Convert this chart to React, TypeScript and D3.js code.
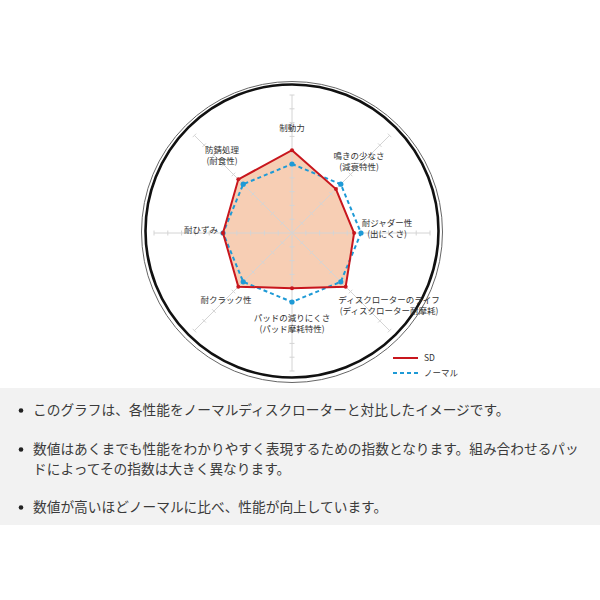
import * as d3 from "d3";

// axis labels (clockwise from top) and their second line
const categories = ["制動力", "鳴きの少なさ", "耐ジャダー性", "ディスクローターのライフ", "パッドの減りにくさ", "耐クラック性", "耐ひずみ", "防錆処理"];
const subLabels = ["", "(減衰特性)", "(出にくさ)", "(ディスクローター耐摩耗)", "(パッド摩耗特性)", "", "", "(耐食性)"];
const sdValues = [6, 4.5, 4.5, 5.5, 4, 5.5, 5, 5.5];
const normalValues = [5, 5, 5, 5, 5, 5, 5, 5];
const tickValues = [1, 2, 3, 4, 5, 6, 7, 8, 9, 10];
const legendNames = ["SD", "ノーマル"];
const notes = [
  ["このグラフは、各性能をノーマルディスクローターと対比したイメージです。"],
  ["数値はあくまでも性能をわかりやすく表現するための指数となります。組み合わせるパッ", "ドによってその指数は大きく異なります。"],
  ["数値が高いほどノーマルに比べ、性能が向上しています。"],
];

// label placement relative to chart centre (layout only)
const labelLayout: [number, number][] = [
  [0, -105], [67, -77], [95, -10], [97, 67], [0, 85], [-66, 67], [-91, -3], [-70, -83],
];

const cx = 292;
const cy = 233;
const red = "#c8161d";
const blue = "#1e9ad6";

export default function App() {
  const r = d3.scaleLinear().domain([0, 10]).range([0, 138]);
  const angle = d3.scaleLinear().domain([0, categories.length]).range([0, 2 * Math.PI]);

  const radial = d3
    .lineRadial<number>()
    .angle((_, i) => angle(i))
    .radius((d) => r(d))
    .curve(d3.curveLinearClosed);

  const pt = (i: number, v: number) => {
    const a = angle(i);
    return [Math.sin(a) * r(v), -Math.cos(a) * r(v)];
  };

  return (
    <>
      <style>{`body{margin:0}`}</style>
      <svg width={600} height={600} style={{ display: "block", background: "#fff" }} fontFamily="'Noto Sans CJK JP', sans-serif">
        {/* notes box */}
        <rect x={0} y={388} width={600} height={137} fill="#f2f2f2" />
        {notes.map((lines, k) => {
          const y0 = [415, 454, 512][k];
          return (
            <g key={k}>
              <circle cx={21} cy={y0 - 4.5} r={2.3} fill="#222" />
              {lines.map((t, j) => (
                <text key={j} x={33} y={y0 + j * 20} fontSize={13.7} fill="#3a3a3a">
                  {t}
                </text>
              ))}
            </g>
          );
        })}

        {/* outer ring */}
        <circle cx={292} cy={232} r={150.5} fill="none" stroke="#666" strokeWidth={1} />
        <circle cx={292} cy={231} r={146.5} fill="none" stroke="#111" strokeWidth={2.6} />

        <g transform={`translate(${cx},${cy})`}>
          {/* SD fill */}
          <path d={radial(sdValues) ?? ""} fill="#f7ceb4" />

          {/* spokes with cross ticks */}
          {categories.map((c, i) => {
            const a = angle(i);
            const [ex, ey] = pt(i, 10);
            const px = Math.cos(a);
            const py = Math.sin(a);
            return (
              <g key={c} stroke="#d4d4d4" strokeWidth={1}>
                <line x1={0} y1={0} x2={ex} y2={ey} />
                {tickValues.map((t) => {
                  const [tx, ty] = pt(i, t);
                  return <line key={t} x1={tx - px * 2.5} y1={ty - py * 2.5} x2={tx + px * 2.5} y2={ty + py * 2.5} />;
                })}
              </g>
            );
          })}

          {/* normal */}
          <path d={radial(normalValues) ?? ""} fill="none" stroke={blue} strokeWidth={2} strokeDasharray="4 3" />
          {normalValues.map((v, i) => {
            const [x, y] = pt(i, v);
            return <circle key={i} cx={x} cy={y} r={2.6} fill={blue} />;
          })}

          {/* SD */}
          <path d={radial(sdValues) ?? ""} fill="none" stroke={red} strokeWidth={2} strokeLinejoin="miter" />
          {sdValues.map((v, i) => {
            const [x, y] = pt(i, v);
            return <circle key={i} cx={x} cy={y} r={2} fill={red} />;
          })}

          {/* labels */}
          {categories.map((c, i) => {
            const [dx, dy] = labelLayout[i];
            return (
              <text key={c} x={dx} y={dy + 3} fontSize={8.5} fill="#333" textAnchor="middle">
                <tspan x={dx}>{c}</tspan>
                {subLabels[i] && (
                  <tspan x={dx} dy={10.5}>
                    {subLabels[i]}
                  </tspan>
                )}
              </text>
            );
          })}
        </g>

        {/* legend */}
        {legendNames.map((n, i) => (
          <g key={n} transform={`translate(393,${358 + i * 15})`}>
            <line x1={0} x2={25} y1={0} y2={0} stroke={i === 0 ? red : blue} strokeWidth={2} strokeDasharray={i === 0 ? undefined : "4 3"} />
            <text x={31} y={3} fontSize={8.5} fill="#333">
              {n}
            </text>
          </g>
        ))}
      </svg>
    </>
  );
}
